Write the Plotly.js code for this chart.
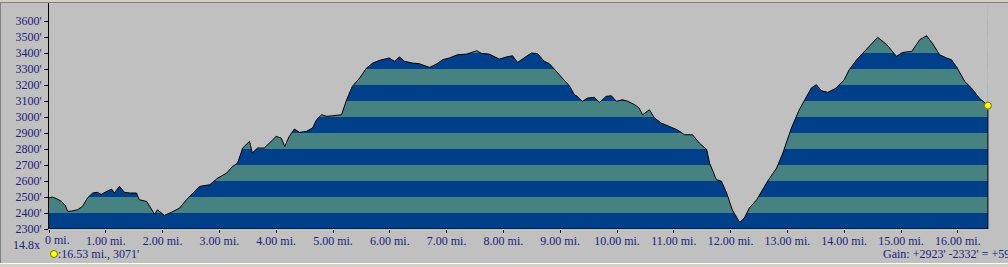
<!DOCTYPE html>
<html>
<head>
<meta charset="utf-8">
<script src="https://cdn.plot.ly/plotly-3.0.1.min.js"></script>
<style>
html,body{margin:0;padding:0;overflow:hidden;background:#c0c0c0;}
#chart{width:1030px;height:267px;}
</style>
</head>
<body>
<div id="chart"></div>
<script>
// Distance along track (miles)
const distMi = [0.00,0.06,0.13,0.22,0.29,0.33,0.40,0.50,0.59,0.68,0.77,0.85,0.92,1.01,1.10,1.15,1.24,1.33,1.42,1.54,1.59,1.72,1.80,1.86,1.91,1.98,2.03,2.16,2.30,2.42,2.53,2.65,2.83,2.97,3.13,3.23,3.32,3.41,3.53,3.58,3.67,3.79,3.88,4.00,4.09,4.15,4.23,4.32,4.41,4.53,4.64,4.71,4.80,4.89,4.99,5.15,5.24,5.34,5.47,5.59,5.70,5.82,5.99,6.08,6.17,6.26,6.40,6.52,6.70,6.82,6.93,7.05,7.19,7.35,7.53,7.61,7.75,7.93,8.05,8.16,8.25,8.37,8.49,8.60,8.72,8.81,8.93,9.04,9.17,9.25,9.30,9.39,9.48,9.60,9.69,9.81,9.90,9.99,10.10,10.19,10.31,10.39,10.45,10.57,10.66,10.78,10.92,11.06,11.19,11.33,11.45,11.58,11.63,11.75,11.84,11.93,12.03,12.16,12.24,12.33,12.46,12.56,12.65,12.81,12.92,13.07,13.21,13.34,13.42,13.51,13.60,13.71,13.86,14.00,14.09,14.22,14.36,14.48,14.59,14.75,14.92,15.03,15.19,15.33,15.45,15.55,15.68,15.80,15.89,15.99,16.12,16.24,16.38,16.53];
// Elevation (feet)
const elevFt = [2494,2500,2490,2472,2445,2410,2412,2420,2441,2495,2525,2529,2517,2535,2550,2525,2566,2529,2525,2525,2483,2472,2431,2392,2420,2400,2385,2405,2431,2483,2525,2566,2577,2618,2650,2691,2712,2806,2848,2775,2806,2806,2837,2879,2868,2816,2879,2925,2904,2910,2931,2983,3014,3004,3008,3014,3108,3191,3244,3306,3337,3354,3369,3348,3375,3348,3337,3333,3310,3331,3358,3369,3389,3393,3414,3398,3393,3362,3375,3383,3341,3369,3400,3396,3348,3333,3285,3244,3191,3139,3129,3098,3118,3123,3091,3129,3133,3098,3108,3098,3077,3056,3014,3045,2994,2962,2941,2920,2889,2889,2837,2796,2712,2608,2598,2525,2420,2341,2368,2431,2483,2546,2598,2681,2775,2931,3046,3129,3181,3202,3164,3154,3181,3233,3296,3358,3410,3452,3498,3452,3379,3404,3410,3483,3508,3462,3389,3369,3358,3306,3223,3181,3118,3071];

const yTickVals = [2300,2400,2500,2600,2700,2800,2900,3000,3100,3200,3300,3400,3500,3600];
const yTickText = ["2300'","2400'","2500'","2600'","2700'","2800'","2900'","3000'","3100'","3200'","3300'","3400'","3500'","3600'"];
const xTickVals = [0,1,2,3,4,5,6,7,8,9,10,11,12,13,14,15,16,17];
const xTickText = ["0 mi.","1.00 mi.","2.00 mi.","3.00 mi.","4.00 mi.","5.00 mi.","6.00 mi.","7.00 mi.","8.00 mi.","9.00 mi.","10.00 mi.","11.00 mi.","12.00 mi.","13.00 mi.","14.00 mi.","15.00 mi.","16.00 mi.","17.00 mi."];
const zoomLabel = "14.8x";
const cursorLabel = ":16.53 mi., 3071'";
const gainLabel = "Gain: +2923' -2332' = +591'";

const bandColors = ["#00408a", "#468282"];
const bg = "#c0c0c0";
const txt = "#20207a";
const fontFam = "'Liberation Serif', 'Times New Roman', serif";

// Geometry (pixels)
const W = 1030, H = 267, ML = 49, MT = 3, MB = 38;
const plotW = W - ML, plotH = H - MT - MB;
const pxPerMile = 56.8, pxPer100ft = 16;
const yMin = 2300;
const yMax = yMin + plotH / pxPer100ft * 100;
const xMax = plotW / pxPerMile;

const n = distMi.length;
const lastX = distMi[n - 1], lastY = elevFt[n - 1];

// Band shapes under the profile
const shapes = [];
for (let i = 0; i < yTickVals.length; i++) {
  shapes.push({
    type: "rect", layer: "below", xref: "x", yref: "y",
    x0: 0, x1: lastX, y0: yTickVals[i], y1: yTickVals[i] + 100,
    fillcolor: bandColors[i % 2], line: {width: 0}
  });
}
function px2paperX(px) { return (px - ML) / plotW; }
function px2paperY(py) { return (MT + plotH - py) / plotH; }
// Window frame
shapes.push({type:"rect", xref:"paper", yref:"paper", x0:px2paperX(-5), x1:px2paperX(W+5), y0:px2paperY(2.5), y1:px2paperY(-5), fillcolor:"#d4d0c8", line:{width:0}, layer:"above"});
shapes.push({type:"line", xref:"paper", yref:"paper", x0:px2paperX(0), x1:px2paperX(W), y0:px2paperY(2.5), y1:px2paperY(2.5), line:{color:"#808080", width:1}});
shapes.push({type:"line", xref:"paper", yref:"paper", x0:px2paperX(0.5), x1:px2paperX(0.5), y0:px2paperY(2.5), y1:px2paperY(263.5), line:{color:"#808080", width:1}});
shapes.push({type:"rect", xref:"paper", yref:"paper", x0:px2paperX(-5), x1:px2paperX(W+5), y0:px2paperY(264), y1:px2paperY(H+5), fillcolor:"#d4d0c8", line:{width:0}});
shapes.push({type:"line", xref:"paper", yref:"paper", x0:px2paperX(0), x1:px2paperX(W), y0:px2paperY(263.5), y1:px2paperY(263.5), line:{color:"#ffffff", width:1}});
// legend dot
shapes.push({type:"circle", xref:"paper", yref:"paper", xsizemode:"pixel", ysizemode:"pixel",
  xanchor:px2paperX(54), yanchor:px2paperY(254), x0:-3.5, x1:3.5, y0:-3.5, y1:3.5,
  fillcolor:"#ffff00", line:{color:"#707000", width:1}});

// Gray cover above the profile
const coverX = distMi.concat([lastX, 0]);
const coverY = elevFt.concat([yMax, yMax]);
// Outline (profile + drop + base)
const outX = distMi.concat([lastX, 0]);
const outY = elevFt.concat([yMin, yMin]);

const traces = [
  {x: coverX, y: coverY, type: "scatter", mode: "lines", fill: "toself", fillcolor: bg, line: {width: 0}, hoverinfo: "skip"},
  {x: outX, y: outY, type: "scatter", mode: "lines", line: {color: "#000000", width: 1}, hoverinfo: "skip"},
  {x: [lastX], y: [lastY], type: "scatter", mode: "markers", cliponaxis: false,
   marker: {size: 7, color: "#ffff00", line: {color: "#707000", width: 1}}, hoverinfo: "skip"}
];

// first tick label drawn as annotation (it is shifted right of its tick in the reference)
const axisTickText = xTickText.map((t, i) => i === 0 ? "" : t);

const layout = {
  width: W, height: H,
  margin: {l: ML, r: 0, t: MT, b: MB, pad: 0},
  paper_bgcolor: bg, plot_bgcolor: bg,
  showlegend: false,
  font: {family: fontFam, size: 12, color: txt},
  xaxis: {
    range: [0, xMax], showgrid: false, zeroline: false, showline: false,
    tickmode: "array", tickvals: xTickVals, ticktext: axisTickText,
    ticks: "outside", ticklen: 3, tickcolor: "#000", tickwidth: 1,
    ticklabelstandoff: -2,
    tickfont: {family: fontFam, size: 12, color: txt}, fixedrange: true
  },
  yaxis: {
    range: [yMin, yMax], showgrid: false, zeroline: false,
    showline: true, linecolor: "#000", linewidth: 1,
    tickmode: "array", tickvals: yTickVals, ticktext: yTickText,
    ticks: "outside", ticklen: 4, tickcolor: "#000", tickwidth: 1,
    tickfont: {family: fontFam, size: 12, color: txt}, fixedrange: true
  },
  shapes: shapes,
  annotations: [
    {text: xTickText[0], xref: "paper", yref: "paper", x: px2paperX(57.5), y: px2paperY(240), xanchor: "center", yanchor: "middle", showarrow: false, borderpad: 0, font: {family: fontFam, size: 12, color: txt}},
    {text: zoomLabel, xref: "paper", yref: "paper", x: px2paperX(26), y: px2paperY(245), xanchor: "center", yanchor: "middle", showarrow: false, borderpad: 0, font: {family: fontFam, size: 12, color: txt}},
    {text: cursorLabel, xref: "paper", yref: "paper", x: px2paperX(56.5), y: px2paperY(254.5), xanchor: "left", yanchor: "middle", showarrow: false, borderpad: 0, font: {family: fontFam, size: 12, color: txt}},
    {text: gainLabel, xref: "paper", yref: "paper", x: px2paperX(882), y: px2paperY(254.5), xanchor: "left", yanchor: "middle", showarrow: false, borderpad: 0, font: {family: fontFam, size: 12, color: txt}}
  ]
};

Plotly.newPlot("chart", traces, layout, {displayModeBar: false, staticPlot: true});
</script>
</body>
</html>
